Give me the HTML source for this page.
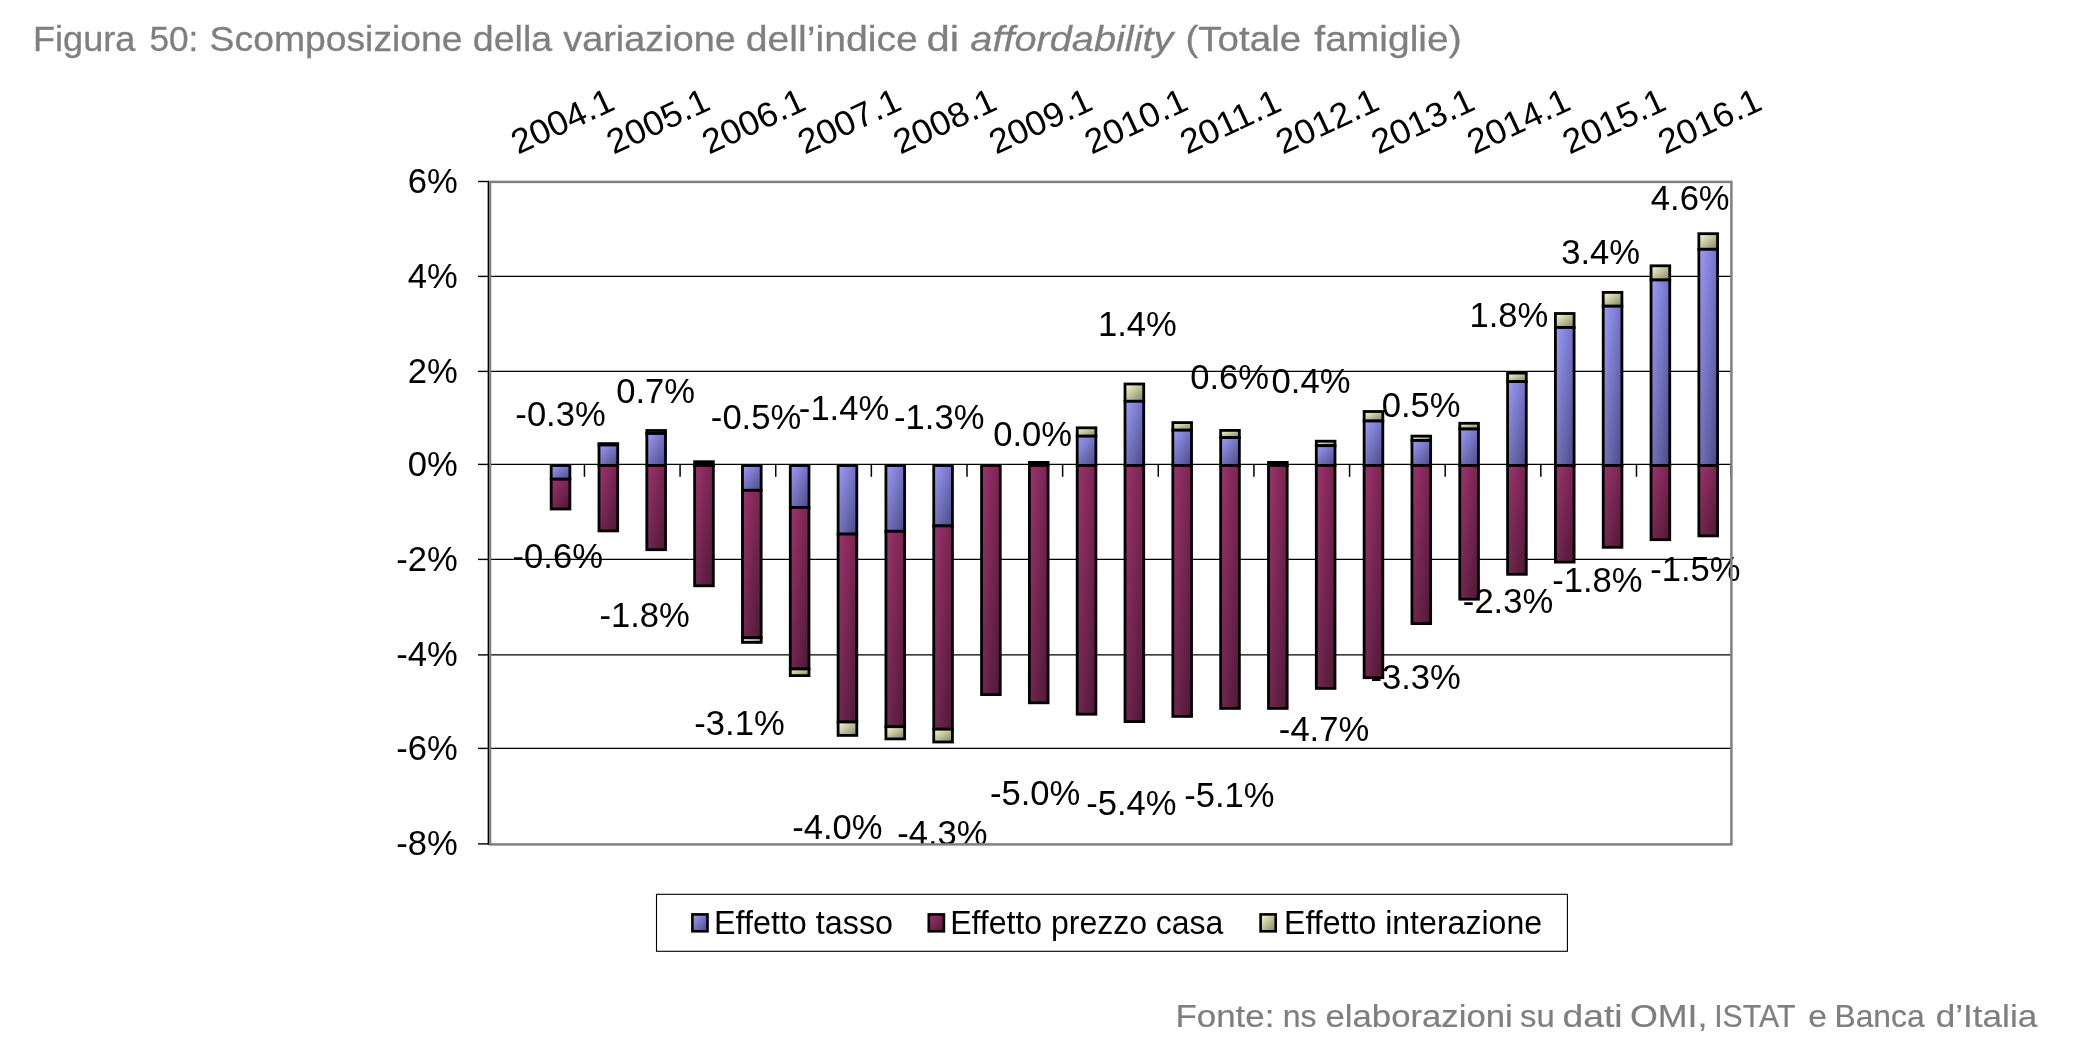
<!DOCTYPE html>
<html><head><meta charset="utf-8"><style>
html,body{margin:0;padding:0;background:#fff;}
body{width:2088px;height:1040px;overflow:hidden;}
svg{display:block;will-change:transform;font-family:"Liberation Sans",sans-serif;}
text.k{stroke:none;}
</style></head><body>
<svg width="2088" height="1040" viewBox="0 0 2088 1040">
<rect width="2088" height="1040" fill="#fff"/>
<text x="0" y="0" transform="translate(33.04,50.80) scale(1.0173,1)" font-size="35.5" fill="#7f7f7f" stroke="#7f7f7f" stroke-width="0.3">Figura</text>
<text x="0" y="0" transform="translate(149.49,50.80) scale(0.9913,1)" font-size="35.5" fill="#7f7f7f" stroke="#7f7f7f" stroke-width="0.3">50:</text>
<text x="0" y="0" transform="translate(209.61,50.80) scale(1.0512,1)" font-size="35.5" fill="#7f7f7f" stroke="#7f7f7f" stroke-width="0.3">Scomposizione</text>
<text x="0" y="0" transform="translate(472.82,50.80) scale(1.0583,1)" font-size="35.5" fill="#7f7f7f" stroke="#7f7f7f" stroke-width="0.3">della</text>
<text x="0" y="0" transform="translate(563.27,50.80) scale(1.0667,1)" font-size="35.5" fill="#7f7f7f" stroke="#7f7f7f" stroke-width="0.3">variazione</text>
<text x="0" y="0" transform="translate(745.75,50.80) scale(1.1045,1)" font-size="35.5" fill="#7f7f7f" stroke="#7f7f7f" stroke-width="0.3">dell’indice</text>
<text x="0" y="0" transform="translate(926.44,50.80) scale(1.1791,1)" font-size="35.5" fill="#7f7f7f" stroke="#7f7f7f" stroke-width="0.3">di</text>
<text x="0" y="0" transform="translate(970.31,50.80) scale(1.1187,1)" font-size="35.5" fill="#7f7f7f" stroke="#7f7f7f" stroke-width="0.3" font-style="italic">affordability</text>
<text x="0" y="0" transform="translate(1185.51,50.80) scale(1.0852,1)" font-size="35.5" fill="#7f7f7f" stroke="#7f7f7f" stroke-width="0.3">(Totale</text>
<text x="0" y="0" transform="translate(1314.35,50.80) scale(1.0986,1)" font-size="35.5" fill="#7f7f7f" stroke="#7f7f7f" stroke-width="0.3">famiglie)</text>
<defs>
<linearGradient id="gb" x1="0" y1="0" x2="1" y2="1"><stop offset="0" stop-color="#9c9cff"/><stop offset="1" stop-color="#4a4a80"/></linearGradient>
<linearGradient id="gp" x1="0" y1="0" x2="1" y2="1"><stop offset="0" stop-color="#a0326c"/><stop offset="1" stop-color="#4a1a34"/></linearGradient>
<linearGradient id="gy" x1="0" y1="0" x2="1" y2="1"><stop offset="0" stop-color="#ffffcc"/><stop offset="1" stop-color="#80806a"/></linearGradient>
</defs>
<line x1="489" y1="276.40" x2="1731" y2="276.40" stroke="#000" stroke-width="1.3"/>
<line x1="489" y1="371.40" x2="1731" y2="371.40" stroke="#000" stroke-width="1.3"/>
<line x1="489" y1="464.40" x2="1731" y2="464.40" stroke="#000" stroke-width="1.3"/>
<line x1="489" y1="559.40" x2="1731" y2="559.40" stroke="#000" stroke-width="1.3"/>
<line x1="489" y1="654.90" x2="1731" y2="654.90" stroke="#000" stroke-width="1.3"/>
<line x1="489" y1="748.40" x2="1731" y2="748.40" stroke="#000" stroke-width="1.3"/>
<line x1="488.4" y1="181" x2="488.4" y2="844.5" stroke="#000" stroke-width="1.2"/>
<line x1="478" y1="181.50" x2="489" y2="181.50" stroke="#000" stroke-width="1.4"/>
<line x1="478" y1="276.40" x2="489" y2="276.40" stroke="#000" stroke-width="1.4"/>
<line x1="478" y1="371.40" x2="489" y2="371.40" stroke="#000" stroke-width="1.4"/>
<line x1="478" y1="464.40" x2="489" y2="464.40" stroke="#000" stroke-width="1.4"/>
<line x1="478" y1="559.40" x2="489" y2="559.40" stroke="#000" stroke-width="1.4"/>
<line x1="478" y1="654.90" x2="489" y2="654.90" stroke="#000" stroke-width="1.4"/>
<line x1="478" y1="748.40" x2="489" y2="748.40" stroke="#000" stroke-width="1.4"/>
<line x1="478" y1="843.90" x2="489" y2="843.90" stroke="#000" stroke-width="1.4"/>
<line x1="584.44" y1="464.40" x2="584.44" y2="476.8" stroke="#000" stroke-width="1.5"/>
<line x1="680.08" y1="464.40" x2="680.08" y2="476.8" stroke="#000" stroke-width="1.5"/>
<line x1="775.72" y1="464.40" x2="775.72" y2="476.8" stroke="#000" stroke-width="1.5"/>
<line x1="871.36" y1="464.40" x2="871.36" y2="476.8" stroke="#000" stroke-width="1.5"/>
<line x1="967.00" y1="464.40" x2="967.00" y2="476.8" stroke="#000" stroke-width="1.5"/>
<line x1="1062.64" y1="464.40" x2="1062.64" y2="476.8" stroke="#000" stroke-width="1.5"/>
<line x1="1158.28" y1="464.40" x2="1158.28" y2="476.8" stroke="#000" stroke-width="1.5"/>
<line x1="1253.92" y1="464.40" x2="1253.92" y2="476.8" stroke="#000" stroke-width="1.5"/>
<line x1="1349.56" y1="464.40" x2="1349.56" y2="476.8" stroke="#000" stroke-width="1.5"/>
<line x1="1445.20" y1="464.40" x2="1445.20" y2="476.8" stroke="#000" stroke-width="1.5"/>
<line x1="1540.84" y1="464.40" x2="1540.84" y2="476.8" stroke="#000" stroke-width="1.5"/>
<line x1="1636.48" y1="464.40" x2="1636.48" y2="476.8" stroke="#000" stroke-width="1.5"/>
<line x1="1731.00" y1="464.40" x2="1731.00" y2="476.8" stroke="#000" stroke-width="1.5"/>
<rect x="551.18" y="465.50" width="18.7" height="13.70" fill="url(#gb)" stroke="#000" stroke-width="2.8"/>
<rect x="551.18" y="479.20" width="18.7" height="29.80" fill="url(#gp)" stroke="#000" stroke-width="2.8"/>
<rect x="599.00" y="443.60" width="18.7" height="1.40" fill="url(#gy)" stroke="#000" stroke-width="2.8"/>
<rect x="599.00" y="445.00" width="18.7" height="20.50" fill="url(#gb)" stroke="#000" stroke-width="2.8"/>
<rect x="599.00" y="465.50" width="18.7" height="65.40" fill="url(#gp)" stroke="#000" stroke-width="2.8"/>
<rect x="646.82" y="430.50" width="18.7" height="3.00" fill="url(#gy)" stroke="#000" stroke-width="2.8"/>
<rect x="646.82" y="433.50" width="18.7" height="32.00" fill="url(#gb)" stroke="#000" stroke-width="2.8"/>
<rect x="646.82" y="465.50" width="18.7" height="84.20" fill="url(#gp)" stroke="#000" stroke-width="2.8"/>
<rect x="694.64" y="461.70" width="18.7" height="3.80" fill="#000" stroke="#000" stroke-width="2.8"/>
<rect x="694.64" y="465.50" width="18.7" height="120.30" fill="url(#gp)" stroke="#000" stroke-width="2.8"/>
<rect x="742.46" y="465.50" width="18.7" height="24.80" fill="url(#gb)" stroke="#000" stroke-width="2.8"/>
<rect x="742.46" y="490.30" width="18.7" height="147.40" fill="url(#gp)" stroke="#000" stroke-width="2.8"/>
<rect x="742.46" y="637.70" width="18.7" height="4.70" fill="url(#gy)" stroke="#000" stroke-width="2.8"/>
<rect x="790.28" y="465.50" width="18.7" height="42.00" fill="url(#gb)" stroke="#000" stroke-width="2.8"/>
<rect x="790.28" y="507.50" width="18.7" height="161.50" fill="url(#gp)" stroke="#000" stroke-width="2.8"/>
<rect x="790.28" y="669.00" width="18.7" height="6.60" fill="url(#gy)" stroke="#000" stroke-width="2.8"/>
<rect x="838.10" y="465.50" width="18.7" height="68.60" fill="url(#gb)" stroke="#000" stroke-width="2.8"/>
<rect x="838.10" y="534.10" width="18.7" height="187.90" fill="url(#gp)" stroke="#000" stroke-width="2.8"/>
<rect x="838.10" y="722.00" width="18.7" height="13.40" fill="url(#gy)" stroke="#000" stroke-width="2.8"/>
<rect x="885.92" y="465.50" width="18.7" height="65.80" fill="url(#gb)" stroke="#000" stroke-width="2.8"/>
<rect x="885.92" y="531.30" width="18.7" height="195.40" fill="url(#gp)" stroke="#000" stroke-width="2.8"/>
<rect x="885.92" y="726.70" width="18.7" height="12.20" fill="url(#gy)" stroke="#000" stroke-width="2.8"/>
<rect x="933.74" y="465.50" width="18.7" height="60.40" fill="url(#gb)" stroke="#000" stroke-width="2.8"/>
<rect x="933.74" y="525.90" width="18.7" height="203.30" fill="url(#gp)" stroke="#000" stroke-width="2.8"/>
<rect x="933.74" y="729.20" width="18.7" height="12.80" fill="url(#gy)" stroke="#000" stroke-width="2.8"/>
<rect x="981.56" y="465.50" width="18.7" height="229.10" fill="url(#gp)" stroke="#000" stroke-width="2.8"/>
<rect x="1029.38" y="462.40" width="18.7" height="3.10" fill="#000" stroke="#000" stroke-width="2.8"/>
<rect x="1029.38" y="465.50" width="18.7" height="237.30" fill="url(#gp)" stroke="#000" stroke-width="2.8"/>
<rect x="1077.20" y="427.80" width="18.7" height="8.40" fill="url(#gy)" stroke="#000" stroke-width="2.8"/>
<rect x="1077.20" y="436.20" width="18.7" height="29.30" fill="url(#gb)" stroke="#000" stroke-width="2.8"/>
<rect x="1077.20" y="465.50" width="18.7" height="248.70" fill="url(#gp)" stroke="#000" stroke-width="2.8"/>
<rect x="1125.02" y="384.00" width="18.7" height="17.30" fill="url(#gy)" stroke="#000" stroke-width="2.8"/>
<rect x="1125.02" y="401.30" width="18.7" height="64.20" fill="url(#gb)" stroke="#000" stroke-width="2.8"/>
<rect x="1125.02" y="465.50" width="18.7" height="256.10" fill="url(#gp)" stroke="#000" stroke-width="2.8"/>
<rect x="1172.84" y="422.60" width="18.7" height="7.60" fill="url(#gy)" stroke="#000" stroke-width="2.8"/>
<rect x="1172.84" y="430.20" width="18.7" height="35.30" fill="url(#gb)" stroke="#000" stroke-width="2.8"/>
<rect x="1172.84" y="465.50" width="18.7" height="250.90" fill="url(#gp)" stroke="#000" stroke-width="2.8"/>
<rect x="1220.66" y="430.40" width="18.7" height="7.20" fill="url(#gy)" stroke="#000" stroke-width="2.8"/>
<rect x="1220.66" y="437.60" width="18.7" height="27.90" fill="url(#gb)" stroke="#000" stroke-width="2.8"/>
<rect x="1220.66" y="465.50" width="18.7" height="242.90" fill="url(#gp)" stroke="#000" stroke-width="2.8"/>
<rect x="1268.48" y="462.40" width="18.7" height="3.10" fill="#000" stroke="#000" stroke-width="2.8"/>
<rect x="1268.48" y="465.50" width="18.7" height="242.90" fill="url(#gp)" stroke="#000" stroke-width="2.8"/>
<rect x="1316.30" y="441.20" width="18.7" height="4.50" fill="url(#gy)" stroke="#000" stroke-width="2.8"/>
<rect x="1316.30" y="445.70" width="18.7" height="19.80" fill="url(#gb)" stroke="#000" stroke-width="2.8"/>
<rect x="1316.30" y="465.50" width="18.7" height="222.90" fill="url(#gp)" stroke="#000" stroke-width="2.8"/>
<rect x="1364.12" y="411.50" width="18.7" height="9.50" fill="url(#gy)" stroke="#000" stroke-width="2.8"/>
<rect x="1364.12" y="421.00" width="18.7" height="44.50" fill="url(#gb)" stroke="#000" stroke-width="2.8"/>
<rect x="1364.12" y="465.50" width="18.7" height="212.20" fill="url(#gp)" stroke="#000" stroke-width="2.8"/>
<rect x="1411.94" y="436.10" width="18.7" height="4.40" fill="url(#gy)" stroke="#000" stroke-width="2.8"/>
<rect x="1411.94" y="440.50" width="18.7" height="25.00" fill="url(#gb)" stroke="#000" stroke-width="2.8"/>
<rect x="1411.94" y="465.50" width="18.7" height="158.10" fill="url(#gp)" stroke="#000" stroke-width="2.8"/>
<rect x="1459.76" y="423.30" width="18.7" height="5.70" fill="url(#gy)" stroke="#000" stroke-width="2.8"/>
<rect x="1459.76" y="429.00" width="18.7" height="36.50" fill="url(#gb)" stroke="#000" stroke-width="2.8"/>
<rect x="1459.76" y="465.50" width="18.7" height="133.70" fill="url(#gp)" stroke="#000" stroke-width="2.8"/>
<rect x="1507.58" y="373.10" width="18.7" height="8.50" fill="url(#gy)" stroke="#000" stroke-width="2.8"/>
<rect x="1507.58" y="381.60" width="18.7" height="83.90" fill="url(#gb)" stroke="#000" stroke-width="2.8"/>
<rect x="1507.58" y="465.50" width="18.7" height="108.80" fill="url(#gp)" stroke="#000" stroke-width="2.8"/>
<rect x="1555.40" y="313.50" width="18.7" height="14.00" fill="url(#gy)" stroke="#000" stroke-width="2.8"/>
<rect x="1555.40" y="327.50" width="18.7" height="138.00" fill="url(#gb)" stroke="#000" stroke-width="2.8"/>
<rect x="1555.40" y="465.50" width="18.7" height="96.60" fill="url(#gp)" stroke="#000" stroke-width="2.8"/>
<rect x="1603.22" y="292.40" width="18.7" height="13.80" fill="url(#gy)" stroke="#000" stroke-width="2.8"/>
<rect x="1603.22" y="306.20" width="18.7" height="159.30" fill="url(#gb)" stroke="#000" stroke-width="2.8"/>
<rect x="1603.22" y="465.50" width="18.7" height="81.80" fill="url(#gp)" stroke="#000" stroke-width="2.8"/>
<rect x="1651.04" y="265.80" width="18.7" height="14.20" fill="url(#gy)" stroke="#000" stroke-width="2.8"/>
<rect x="1651.04" y="280.00" width="18.7" height="185.50" fill="url(#gb)" stroke="#000" stroke-width="2.8"/>
<rect x="1651.04" y="465.50" width="18.7" height="74.20" fill="url(#gp)" stroke="#000" stroke-width="2.8"/>
<rect x="1698.86" y="233.70" width="18.7" height="15.60" fill="url(#gy)" stroke="#000" stroke-width="2.8"/>
<rect x="1698.86" y="249.30" width="18.7" height="216.20" fill="url(#gb)" stroke="#000" stroke-width="2.8"/>
<rect x="1698.86" y="465.50" width="18.7" height="70.40" fill="url(#gp)" stroke="#000" stroke-width="2.8"/>
<text x="0" y="0" transform="translate(515.36,426.25) scale(0.98,1)" font-size="35.3" fill="#000" class="k"  >-0.3%</text>
<text x="0" y="0" transform="translate(616.17,402.50) scale(0.98,1)" font-size="35.3" fill="#000" class="k"  >0.7%</text>
<text x="0" y="0" transform="translate(710.86,429.45) scale(0.98,1)" font-size="35.3" fill="#000" class="k"  >-0.5%</text>
<text x="0" y="0" transform="translate(798.86,419.59) scale(0.98,1)" font-size="35.3" fill="#000" class="k"  >-1.4%</text>
<text x="0" y="0" transform="translate(894.06,428.85) scale(0.98,1)" font-size="35.3" fill="#000" class="k"  >-1.3%</text>
<text x="0" y="0" transform="translate(993.22,445.90) scale(0.98,1)" font-size="35.3" fill="#000" class="k"  >0.0%</text>
<text x="0" y="0" transform="translate(1097.92,336.09) scale(0.98,1)" font-size="35.3" fill="#000" class="k"  >1.4%</text>
<text x="0" y="0" transform="translate(1190.17,389.05) scale(0.98,1)" font-size="35.3" fill="#000" class="k"  >0.6%</text>
<text x="0" y="0" transform="translate(1271.57,393.30) scale(0.98,1)" font-size="35.3" fill="#000" class="k"  >0.4%</text>
<text x="0" y="0" transform="translate(1381.72,417.15) scale(0.98,1)" font-size="35.3" fill="#000" class="k"  >0.5%</text>
<text x="0" y="0" transform="translate(1469.52,327.15) scale(0.98,1)" font-size="35.3" fill="#000" class="k"  >1.8%</text>
<text x="0" y="0" transform="translate(1561.28,264.20) scale(0.98,1)" font-size="35.3" fill="#000" class="k"  >3.4%</text>
<text x="0" y="0" transform="translate(1650.79,209.85) scale(0.98,1)" font-size="35.3" fill="#000" class="k"  >4.6%</text>
<text x="0" y="0" transform="translate(512.56,568.35) scale(0.98,1)" font-size="35.3" fill="#000" class="k"  >-0.6%</text>
<text x="0" y="0" transform="translate(599.51,626.70) scale(0.98,1)" font-size="35.3" fill="#000" class="k"  >-1.8%</text>
<text x="0" y="0" transform="translate(694.31,734.55) scale(0.98,1)" font-size="35.3" fill="#000" class="k"  >-3.1%</text>
<text x="0" y="0" transform="translate(792.21,839.25) scale(0.98,1)" font-size="35.3" fill="#000" class="k"  >-4.0%</text>
<text x="0" y="0" transform="translate(897.26,845.15) scale(0.98,1)" font-size="35.3" fill="#000" class="k"  >-4.3%</text>
<text x="0" y="0" transform="translate(990.01,805.15) scale(0.98,1)" font-size="35.3" fill="#000" class="k"  >-5.0%</text>
<text x="0" y="0" transform="translate(1086.16,814.92) scale(0.98,1)" font-size="35.3" fill="#000" class="k"  >-5.4%</text>
<text x="0" y="0" transform="translate(1184.26,806.52) scale(0.98,1)" font-size="35.3" fill="#000" class="k"  >-5.1%</text>
<text x="0" y="0" transform="translate(1278.86,740.99) scale(0.98,1)" font-size="35.3" fill="#000" class="k"  >-4.7%</text>
<text x="0" y="0" transform="translate(1370.46,689.25) scale(0.98,1)" font-size="35.3" fill="#000" class="k"  >-3.3%</text>
<text x="0" y="0" transform="translate(1462.86,613.10) scale(0.98,1)" font-size="35.3" fill="#000" class="k"  >-2.3%</text>
<text x="0" y="0" transform="translate(1552.16,592.40) scale(0.98,1)" font-size="35.3" fill="#000" class="k"  >-1.8%</text>
<text x="0" y="0" transform="translate(1650.26,580.82) scale(0.98,1)" font-size="35.3" fill="#000" class="k"  >-1.5%</text>
<rect x="490" y="181.9" width="1241.4" height="662.5" fill="none" stroke="#808080" stroke-width="2.5"/>
<line x1="488.4" y1="181" x2="488.4" y2="844.5" stroke="#000" stroke-width="1.2"/>
<text x="0" y="0" transform="translate(407.83,193.35) scale(0.98,1)" font-size="35.3">6%</text>
<text x="0" y="0" transform="translate(407.83,287.84) scale(0.98,1)" font-size="35.3">4%</text>
<text x="0" y="0" transform="translate(407.83,382.92) scale(0.98,1)" font-size="35.3">2%</text>
<text x="0" y="0" transform="translate(407.83,475.85) scale(0.98,1)" font-size="35.3">0%</text>
<text x="0" y="0" transform="translate(396.31,570.92) scale(0.98,1)" font-size="35.3">-2%</text>
<text x="0" y="0" transform="translate(396.31,666.34) scale(0.98,1)" font-size="35.3">-4%</text>
<text x="0" y="0" transform="translate(396.31,759.85) scale(0.98,1)" font-size="35.3">-6%</text>
<text x="0" y="0" transform="translate(396.31,855.35) scale(0.98,1)" font-size="35.3">-8%</text>
<text x="-52.94" y="11.91" transform="translate(562.30,121.00) rotate(-25) scale(1.03,1)" font-size="34.6" class="k">2004.1</text>
<text x="-52.94" y="11.91" transform="translate(657.90,121.00) rotate(-25) scale(1.03,1)" font-size="34.6" class="k">2005.1</text>
<text x="-52.94" y="11.91" transform="translate(753.50,121.00) rotate(-25) scale(1.03,1)" font-size="34.6" class="k">2006.1</text>
<text x="-52.94" y="11.91" transform="translate(849.10,121.00) rotate(-25) scale(1.03,1)" font-size="34.6" class="k">2007.1</text>
<text x="-52.94" y="11.91" transform="translate(944.70,121.00) rotate(-25) scale(1.03,1)" font-size="34.6" class="k">2008.1</text>
<text x="-52.94" y="11.91" transform="translate(1040.30,121.00) rotate(-25) scale(1.03,1)" font-size="34.6" class="k">2009.1</text>
<text x="-52.94" y="11.91" transform="translate(1135.90,121.00) rotate(-25) scale(1.03,1)" font-size="34.6" class="k">2010.1</text>
<text x="-52.94" y="11.91" transform="translate(1231.50,121.00) rotate(-25) scale(1.03,1)" font-size="34.6" class="k">2011.1</text>
<text x="-52.94" y="11.91" transform="translate(1327.10,121.00) rotate(-25) scale(1.03,1)" font-size="34.6" class="k">2012.1</text>
<text x="-52.94" y="11.91" transform="translate(1422.70,121.00) rotate(-25) scale(1.03,1)" font-size="34.6" class="k">2013.1</text>
<text x="-52.94" y="11.91" transform="translate(1518.30,121.00) rotate(-25) scale(1.03,1)" font-size="34.6" class="k">2014.1</text>
<text x="-52.94" y="11.91" transform="translate(1613.90,121.00) rotate(-25) scale(1.03,1)" font-size="34.6" class="k">2015.1</text>
<text x="-52.94" y="11.91" transform="translate(1709.50,121.00) rotate(-25) scale(1.03,1)" font-size="34.6" class="k">2016.1</text>
<rect x="656.5" y="894.3" width="910.9" height="57" fill="#fff" stroke="#000" stroke-width="1.1"/>
<rect x="692.40" y="914.4" width="15.1" height="16.9" fill="url(#gb)" stroke="#000" stroke-width="2.6"/>
<rect x="928.80" y="914.4" width="15.1" height="16.9" fill="url(#gp)" stroke="#000" stroke-width="2.6"/>
<rect x="1260.60" y="914.4" width="15.1" height="16.9" fill="url(#gy)" stroke="#000" stroke-width="2.6"/>
<text x="0" y="0" transform="translate(714.05,933.50) scale(0.9503,1)" font-size="34.0">Effetto tasso</text>
<text x="0" y="0" transform="translate(950.17,933.50) scale(0.9412,1)" font-size="34.0">Effetto prezzo casa</text>
<text x="0" y="0" transform="translate(1284.07,933.50) scale(0.9442,1)" font-size="34.0">Effetto interazione</text>
<text x="0" y="0" transform="translate(1175.54,1027.00) scale(1.1139,1)" font-size="31.3" fill="#7f7f7f" stroke="#7f7f7f" stroke-width="0.2">Fonte:</text>
<text x="0" y="0" transform="translate(1282.78,1027.00) scale(1.0218,1)" font-size="31.3" fill="#7f7f7f" stroke="#7f7f7f" stroke-width="0.2">ns</text>
<text x="0" y="0" transform="translate(1325.53,1027.00) scale(1.1092,1)" font-size="31.3" fill="#7f7f7f" stroke="#7f7f7f" stroke-width="0.2">elaborazioni</text>
<text x="0" y="0" transform="translate(1519.99,1027.00) scale(1.0496,1)" font-size="31.3" fill="#7f7f7f" stroke="#7f7f7f" stroke-width="0.2">su</text>
<text x="0" y="0" transform="translate(1562.54,1027.00) scale(1.1883,1)" font-size="31.3" fill="#7f7f7f" stroke="#7f7f7f" stroke-width="0.2">dati</text>
<text x="0" y="0" transform="translate(1629.90,1027.00) scale(1.1446,1)" font-size="31.3" fill="#7f7f7f" stroke="#7f7f7f" stroke-width="0.2">OMI,</text>
<text x="0" y="0" transform="translate(1714.21,1027.00) scale(0.9661,1)" font-size="31.3" fill="#7f7f7f" stroke="#7f7f7f" stroke-width="0.2">ISTAT</text>
<text x="0" y="0" transform="translate(1808.27,1027.00) scale(1.0758,1)" font-size="31.3" fill="#7f7f7f" stroke="#7f7f7f" stroke-width="0.2">e</text>
<text x="0" y="0" transform="translate(1834.49,1027.00) scale(1.0153,1)" font-size="31.3" fill="#7f7f7f" stroke="#7f7f7f" stroke-width="0.2">Banca</text>
<text x="0" y="0" transform="translate(1935.72,1027.00) scale(1.1227,1)" font-size="31.3" fill="#7f7f7f" stroke="#7f7f7f" stroke-width="0.2">d’Italia</text>
</svg></body></html>
